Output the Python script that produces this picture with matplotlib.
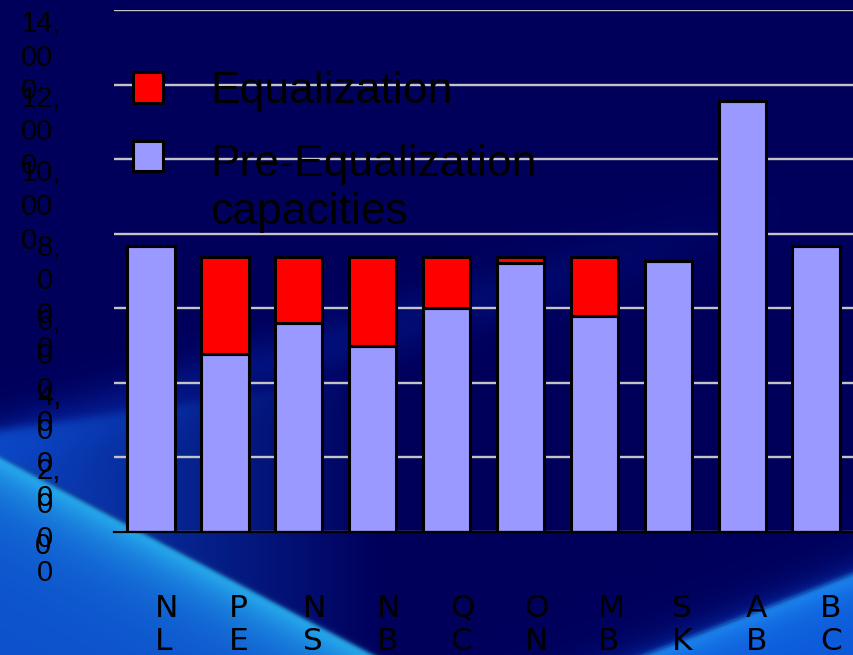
import numpy as np
import matplotlib
matplotlib.use("Agg")
import matplotlib.pyplot as plt
import matplotlib.patches as mpatches
from matplotlib.legend_handler import HandlerPatch, update_from_first_child
from matplotlib.transforms import ScaledTranslation


provinces = ["NL", "PE", "NS", "NB", "QC", "ON", "MB", "SK", "AB", "BC"]
pre_equalization = [7670, 4770, 5600, 4980, 6000, 7220, 5800, 7270, 11570, 7670]
equalization = [0, 2610, 1780, 2400, 1380, 160, 1580, 0, 0, 0]

y_ticks = [0, 2000, 4000, 6000, 8000, 10000, 12000, 14000]
# the labels are wrapped in the original, one or two characters per line
y_tick_labels = ["0", "2,\n0\n0\n0", "4,\n0\n0\n0", "6,\n0\n0\n0", "8,\n0\n0\n0",
                 "10,\n00\n0", "12,\n00\n0", "14,\n00\n0"]
x_tick_labels = ["\n".join(p) for p in provinces]

legend_labels = ["Equalization", "Pre-Equalization\ncapacities"]


def make_background(h, w):
    '''Navy slide background with the blue swooshes in the lower corners.'''
    yy, xx = np.mgrid[0:h, 0:w].astype(float)
    img = np.zeros((h, w, 3))
    img[:] = (0.0, 0.0, 0.36)

    def blend(color, alpha):
        a = np.clip(alpha, 0, 1)[..., None]
        img[:] = img * (1 - a) + np.asarray(color, dtype=float) * a

    def sig(v):
        return 1.0 / (1.0 + np.exp(-np.clip(v, -50, 50)))

    # faint haze rising to the right
    yc = 445 - 0.30 * xx
    blend((0.03, 0.20, 0.75), np.exp(-((yy - yc) / 30.0) ** 2) * np.clip(1 - xx / 800, 0, 1) * 0.5)

    # wedge above the bottom-left swoosh
    edge1 = 457 + 0.53 * xx
    d1 = yy - edge1
    top_wedge = 430 - 0.15 * xx
    wedge = sig((yy - top_wedge) / 3.0) * sig(-d1 / 2.0) * np.clip(1 - xx / 380, 0, 1)
    blend((0.05, 0.30, 0.80), wedge * 0.9)

    # bottom-left swoosh
    inner = np.exp(-np.clip(d1, 0, None) / 40.0)[..., None]
    col = np.array([0.16, 0.70, 0.94]) * inner + np.array([0.05, 0.32, 0.80]) * (1 - inner)
    below = sig(d1 / 1.5)[..., None]
    img[:] = img * (1 - below) + col * below

    # bottom-right swoosh
    edge2 = 655 - 0.39 * (xx - 643)
    d2 = yy - edge2
    blend((0.03, 0.25, 0.80), np.exp(np.clip(d2, None, 0) / 15.0) * (d2 < 0) * 0.5)
    inner2 = np.exp(-np.clip(d2, 0, None) / 20.0)[..., None]
    col2 = np.array([0.12, 0.55, 0.95]) * inner2 + np.array([0.05, 0.35, 0.85]) * (1 - inner2)
    below2 = sig(d2 / 1.5)[..., None]
    img[:] = img * (1 - below2) + col2 * below2
    return img


def raised_box(legend, orig_handle, xdescent, ydescent, width, height, fontsize):
    # line the swatch up with the first line of a two-line label
    return mpatches.Rectangle((-xdescent, -ydescent + 0.74 * fontsize), width, height)


if __name__ == "__main__":
    plt.rcParams['font.family'] = ['Liberation Sans', 'DejaVu Sans']

    fig = plt.figure(figsize=(8.5301, 6.5501), dpi=100)
    bg = fig.figimage(make_background(655, 853), xo=0, yo=0, origin='upper')
    bg.set_zorder(-10)

    ax = fig.add_axes([114 / 853, 123 / 655, 739 / 853, 522 / 655])
    ax.patch.set_alpha(0)

    x = np.arange(len(provinces))
    pre_bars = ax.bar(x, pre_equalization, width=0.64, color='#9999FF',
                      edgecolor='black', linewidth=2.2, zorder=3)
    eq_bars = ax.bar(x, equalization, width=0.64, bottom=pre_equalization,
                     color='#FF0000', edgecolor='black', linewidth=2.2, zorder=3)

    ax.set_xlim(-0.5, 9.5)
    ax.set_ylim(0, 14000)
    ax.yaxis.grid(True, color='#c4c4c4', linewidth=1.7, zorder=1)
    ax.set_axisbelow(True)
    for side in ['top', 'right', 'left']:
        ax.spines[side].set_visible(False)
    ax.spines['bottom'].set_color('black')
    ax.spines['bottom'].set_linewidth(1.6)
    ax.spines['bottom'].set_zorder(4)

    ax.set_yticks(y_ticks, y_tick_labels)
    ax.tick_params(axis='y', length=0, pad=38, labelsize=21, labelcolor='black')
    for lab in ax.get_yticklabels():
        lab.set_va('top')
        lab.set_multialignment('left')
        lab.set_linespacing(1.26)
    zero_label = ax.get_yticklabels()[0]
    zero_label.set_transform(zero_label.get_transform()
                             + ScaledTranslation(-10 / 100, 0, fig.dpi_scale_trans))

    ax.set_xticks(x, x_tick_labels)
    ax.tick_params(axis='x', length=0, pad=44.5, labelsize=22.5, labelcolor='black')
    shift = ScaledTranslation(4 / 100, 0, fig.dpi_scale_trans)
    for lab in ax.get_xticklabels():
        lab.set_ha('left')
        lab.set_fontfamily('DejaVu Sans')
        lab.set_linespacing(1.2)
        lab.set_transform(lab.get_transform() + shift)

    leg = ax.legend([eq_bars, pre_bars], legend_labels,
                    handler_map={pre_bars: HandlerPatch(patch_func=raised_box,
                                                        update_func=update_from_first_child)},
                    loc='upper left', bbox_to_anchor=(133 / 853, 1 - 71 / 655),
                    bbox_transform=fig.transFigure, frameon=False,
                    prop={'family': 'Liberation Sans', 'size': 32},
                    handlelength=0.68, handleheight=0.68, handletextpad=1.05,
                    labelspacing=0.73, borderpad=0, borderaxespad=0)
    for t in leg.get_texts():
        t.set_linespacing(1.2)
        t.set_color('black')

    fig.savefig("out.png", dpi=100)
